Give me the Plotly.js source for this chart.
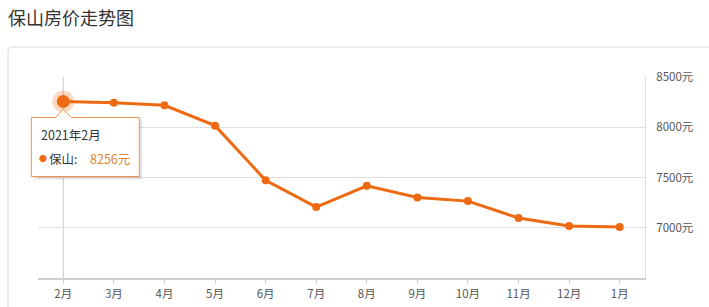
<!DOCTYPE html>
<html>
<head>
<meta charset="utf-8">
<script src="https://cdn.plot.ly/plotly-3.0.1.min.js"></script>
<style>html,body{margin:0;padding:0;background:#fff;}#chart{width:709px;height:307px;}</style>
</head>
<body>
<div id="chart"></div>
<script>
const months = ['2月','3月','4月','5月','6月','7月','8月','9月','10月','11月','12月','1月'];
const prices = [8256, 8245, 8218, 8016, 7472, 7206, 7417, 7301, 7265, 7097, 7018, 7008];
const yTicks = [7000, 7500, 8000, 8500];
const yTickLabels = ['7000元', '7500元', '8000元', '8500元'];
const yRange = [6500, 8500];
const seriesName = '保山';
const tipTitle = '2021年2月';
const chartTitle = '保山房价走势图';

const FONT = '"Noto Sans CJK SC", "Noto Sans", sans-serif';
const ORANGE = '#ee6a12';

// paper position of highlighted (first) point
const nCat = months.length;
const hx = (0 + 0.5) / nCat;
const hy = (prices[0] - yRange[0]) / (yRange[1] - yRange[0]);

const traces = [
  {
    x: months, y: prices, type: 'scatter', mode: 'lines+markers',
    line: {color: ORANGE, width: 3},
    marker: {color: ORANGE, size: 8},
    hoverinfo: 'skip', showlegend: false
  },
  {
    x: [months[0]], y: [prices[0]], type: 'scatter', mode: 'markers',
    marker: {color: 'rgba(238,106,18,0.25)', size: 22},
    hoverinfo: 'skip', showlegend: false
  },
  {
    x: [months[0]], y: [prices[0]], type: 'scatter', mode: 'markers',
    marker: {color: ORANGE, size: 13},
    hoverinfo: 'skip', showlegend: false
  }
];

const boxPath = 'M -32 -16 L -8 -16 L 0 -8 L 8 -16 L 76 -16 L 76 -75 L -32 -75 Z';
const shadowPath = 'M -30 -18 L 79 -18 L 79 -78 L -30 -78 Z';

const layout = {
  width: 709, height: 307,
  margin: {l: 38, r: 64, t: 77, b: 29},
  paper_bgcolor: '#fff', plot_bgcolor: '#fff',
  font: {family: FONT, color: '#555', size: 11},
  hovermode: false,
  title: {
    text: chartTitle, x: 8/709, xref: 'container', xanchor: 'left',
    y: 1 - 18.5/307, yref: 'container', yanchor: 'middle',
    font: {family: FONT, size: 18, color: '#333'}
  },
  xaxis: {
    type: 'category', range: [-0.5, nCat - 0.5],
    showgrid: false, zeroline: false,
    showline: true, linecolor: '#d0d0d0', linewidth: 2,
    ticks: 'outside', ticklen: 4, tickcolor: '#d0d0d0', tickwidth: 1,
    tickfont: {family: FONT, size: 11.5, color: '#555'}
  },
  yaxis: {
    side: 'right', range: yRange, tickvals: yTicks, ticktext: yTickLabels,
    showgrid: true, gridcolor: '#e0e0e0', gridwidth: 1, zeroline: false,
    showline: true, linecolor: '#dddddd', linewidth: 1,
    ticks: '', ticklabelstandoff: 8,
    tickfont: {family: FONT, size: 11.5, color: '#555'}
  },
  shapes: [
    {type: 'path', xref: 'paper', yref: 'paper', xsizemode: 'pixel', ysizemode: 'pixel',
     xanchor: 0, yanchor: 1, layer: 'below',
     path: 'M -30 -260 L -30 26 Q -30 30 -26 30 L 700 30',
     line: {color: '#dcdcdc', width: 1}, fillcolor: 'rgba(0,0,0,0)'},
    {type: 'line', xref: 'paper', yref: 'paper', x0: hx, x1: hx, y0: 0, y1: 1,
     line: {color: '#cccccc', width: 1}, layer: 'below'},
    {type: 'path', xref: 'paper', yref: 'paper', xsizemode: 'pixel', ysizemode: 'pixel',
     xanchor: hx, yanchor: hy, path: shadowPath,
     line: {width: 0}, fillcolor: 'rgba(0,0,0,0.10)', layer: 'above'},
    {type: 'path', xref: 'paper', yref: 'paper', xsizemode: 'pixel', ysizemode: 'pixel',
     xanchor: hx, yanchor: hy, path: boxPath,
     line: {color: '#f0904f', width: 1}, fillcolor: '#ffffff', layer: 'above'}
  ],
  annotations: [
    {x: hx, y: hy, xref: 'paper', yref: 'paper', showarrow: false,
     xanchor: 'left', yanchor: 'middle', xshift: -24, yshift: -32.5,
     text: tipTitle, font: {family: FONT, size: 12.5, color: '#333'}},
    {x: hx, y: hy, xref: 'paper', yref: 'paper', showarrow: false,
     xanchor: 'left', yanchor: 'middle', xshift: -26, yshift: -57,
     text: '●', font: {family: FONT, size: 8, color: ORANGE}},
    {x: hx, y: hy, xref: 'paper', yref: 'paper', showarrow: false,
     xanchor: 'left', yanchor: 'middle', xshift: -16, yshift: -56.5,
     text: seriesName + ':', font: {family: FONT, size: 12.5, color: '#333'}},
    {x: hx, y: hy, xref: 'paper', yref: 'paper', showarrow: false,
     xanchor: 'left', yanchor: 'middle', xshift: 25, yshift: -56.5,
     text: prices[0] + '元', font: {family: FONT, size: 12.5, color: '#e0862e'}}
  ]
};

Plotly.newPlot('chart', traces, layout, {displayModeBar: false, staticPlot: true});
</script>
</body>
</html>
